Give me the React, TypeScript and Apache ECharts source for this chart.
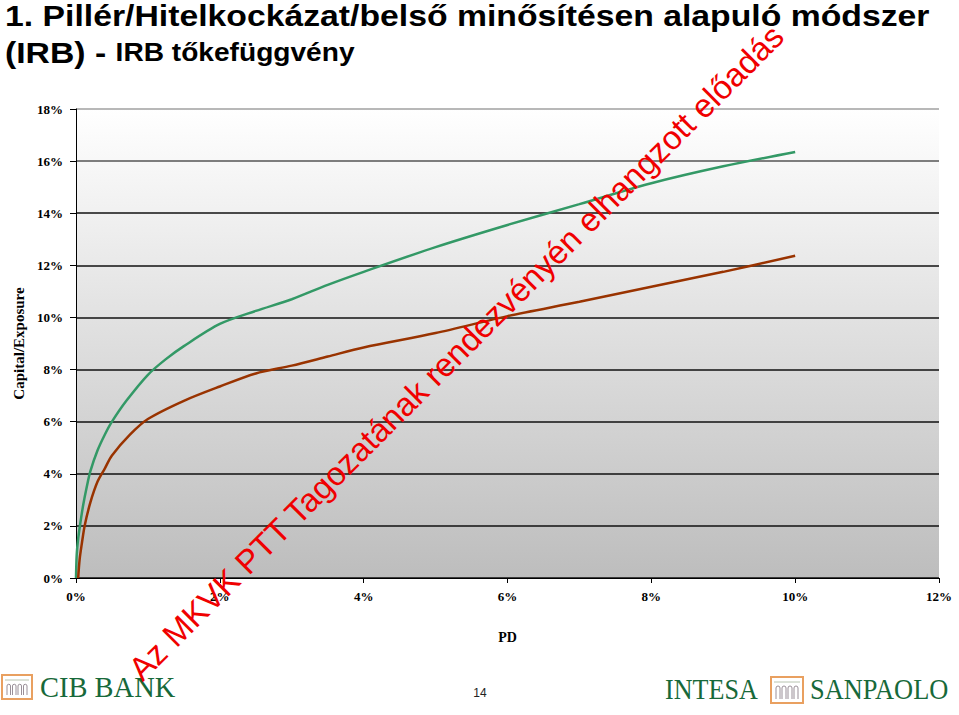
import React, { useEffect, useRef } from "react";
import * as echarts from "echarts";

const titleLine1 = "1. Pillér/Hitelkockázat/belső minősítésen alapuló módszer";
const titleLine2a = "(IRB) - ";
const titleLine2b = "IRB tőkefüggvény";
const watermark = "Az MKVK PTT Tagozatának rendezvényén elhangzott előadás";
const yAxisName = "Capital/Exposure";
const xAxisName = "PD";
const pageNumber = "14";

const yTicks = [0, 2, 4, 6, 8, 10, 12, 14, 16, 18];
const xTicks = [0, 2, 4, 6, 8, 10, 12];

// PD (%) , Capital/Exposure (%)
const greenPD = [0, 0.01, 0.03, 0.06, 0.1, 0.15, 0.2, 0.3, 0.4, 0.5, 0.7, 1.0, 1.25, 1.5, 2.0, 2.5, 3.0, 3.5, 4.0, 5, 6, 7, 8, 9, 10];
const greenCap = [0, 0.9, 1.5, 2.1, 2.8, 3.5, 4.1, 4.9, 5.5, 6.0, 6.8, 7.8, 8.4, 8.9, 9.75, 10.25, 10.7, 11.25, 11.75, 12.7, 13.55, 14.35, 15.15, 15.8, 16.35];

const brownPD = [0.03, 0.05, 0.08, 0.12, 0.2, 0.3, 0.4, 0.5, 0.75, 1.0, 1.5, 2.0, 2.5, 3.0, 3.5, 4, 5, 6, 7, 8, 9, 10];
const brownCap = [0, 0.7, 1.3, 2.0, 2.9, 3.7, 4.2, 4.7, 5.5, 6.1, 6.8, 7.35, 7.85, 8.15, 8.5, 8.85, 9.4, 10.05, 10.6, 11.18, 11.75, 12.37];

const SERIF = "'Liberation Serif', 'DejaVu Serif', serif";
const SANS = "'Liberation Sans', Arial, sans-serif";
const LOGO_GREEN = "#17693a";
const LOGO_ORANGE = "#e9a060";

function archLogo(x: number, y: number, w: number, h: number): any[] {
  const els: any[] = [];
  els.push({
    type: "rect",
    shape: { x, y, width: w, height: h },
    style: { fill: "#fff", stroke: LOGO_ORANGE, lineWidth: 2 },
  });
  els.push({
    type: "line",
    shape: { x1: x + 3, y1: y + 5, x2: x + w - 3, y2: y + 5 },
    style: { stroke: "#b8c4b0", lineWidth: 1 },
  });
  const n = 4;
  const aw = (w - 8) / n;
  for (let i = 0; i < n; i++) {
    const cx = x + 4 + aw * i + aw / 2;
    const r = aw / 2 - 1;
    const top = y + 11;
    els.push({
      type: "arc",
      shape: { cx, cy: top, r, startAngle: Math.PI, endAngle: 2 * Math.PI, clockwise: true },
      style: { stroke: "#9a8f98", lineWidth: 1, fill: "none" },
    });
    els.push({
      type: "polyline",
      shape: { points: [[cx - r, top], [cx - r, y + h - 4]] },
      style: { stroke: "#9a8f98", lineWidth: 1 },
    });
    els.push({
      type: "polyline",
      shape: { points: [[cx + r, top], [cx + r, y + h - 4]] },
      style: { stroke: "#9a8f98", lineWidth: 1 },
    });
  }
  return els;
}

export default function App() {
  const ref = useRef<HTMLDivElement>(null);
  useEffect(() => {
    if (!ref.current) return;
    const chart = echarts.init(ref.current, null, { renderer: "svg" });
    const green = greenPD.map((p, i) => [p, greenCap[i]]);
    const brown = brownPD.map((p, i) => [p, brownCap[i]]);
    const splitColors = yTicks.map((t) => (t === 18 ? "#a0a0a0" : t === 16 ? "#555" : "#111"));

    const option: any = {
      animation: false,
      backgroundColor: "#ffffff",
      grid: {
        left: 76,
        right: 20,
        top: 109,
        bottom: 137,
        show: true,
        borderWidth: 0,
        backgroundColor: {
          type: "linear",
          x: 0,
          y: 0,
          x2: 0,
          y2: 1,
          colorStops: [
            { offset: 0, color: "#ffffff" },
            { offset: 1, color: "#bdbdbd" },
          ],
        },
      },
      xAxis: {
        type: "value",
        min: 0,
        max: 12,
        interval: 2,
        name: xAxisName,
        nameLocation: "middle",
        nameGap: 52,
        nameTextStyle: { fontFamily: SERIF, fontWeight: "bold", fontSize: 14, color: "#000" },
        axisLine: { show: true, onZero: false, lineStyle: { color: "#000", width: 1 } },
        axisTick: { show: true, length: 5, lineStyle: { color: "#000" } },
        axisLabel: {
          margin: 12,
          fontFamily: SERIF,
          fontWeight: "bold",
          fontSize: 13,
          color: "#000",
          formatter: (v: number) => (xTicks.includes(v) ? v + "%" : ""),
        },
        splitLine: { show: false },
      },
      yAxis: {
        type: "value",
        min: 0,
        max: 18,
        interval: 2,
        name: yAxisName,
        nameLocation: "middle",
        nameGap: 49,
        nameRotate: 90,
        nameTextStyle: { fontFamily: SERIF, fontWeight: "bold", fontSize: 15, color: "#000" },
        axisLine: { show: true, lineStyle: { color: "#000", width: 1 } },
        axisTick: { show: true, length: 6, lineStyle: { color: "#000" } },
        axisLabel: {
          margin: 13,
          fontFamily: SERIF,
          fontWeight: "bold",
          fontSize: 13,
          color: "#000",
          formatter: (v: number) => (yTicks.includes(v) ? v + "%" : ""),
        },
        splitLine: { show: true, lineStyle: { color: splitColors, width: 1.5 } },
      },
      series: [
        {
          type: "line",
          name: "green",
          data: green,
          smooth: 0.3,
          showSymbol: false,
          symbol: "none",
          lineStyle: { color: "#339966", width: 2.5 },
          z: 3,
        },
        {
          type: "line",
          name: "brown",
          data: brown,
          smooth: 0.3,
          showSymbol: false,
          symbol: "none",
          lineStyle: { color: "#993300", width: 2.5 },
          z: 3,
        },
      ],
      graphic: [
        {
          type: "text",
          x: 5,
          y: 1,
          scaleX: 1.125,
          style: {
            text: titleLine1,
            font: `bold 30px ${SANS}`,
            fill: "#000",
            textVerticalAlign: "top",
          },
        },
        {
          type: "text",
          x: 5,
          y: 38,
          scaleX: 1.125,
          style: {
            text: `{a|${titleLine2a}}{b|${titleLine2b}}`,
            fill: "#000",
            textVerticalAlign: "top",
            rich: {
              a: { font: `bold 30px ${SANS}`, fill: "#000" },
              b: { font: `bold 25px ${SANS}`, fill: "#000" },
            },
          },
        },
        ...archLogo(2, 675, 30, 24),
        {
          type: "text",
          x: 40,
          y: 702,
          scaleX: 0.95,
          style: {
            text: "CIB BANK",
            font: `30px ${SERIF}`,
            fill: LOGO_GREEN,
            textVerticalAlign: "bottom",
          },
        },
        {
          type: "text",
          x: 665,
          y: 704,
          scaleX: 0.87,
          style: {
            text: "INTESA",
            font: `30px ${SERIF}`,
            fill: LOGO_GREEN,
            textVerticalAlign: "bottom",
          },
        },
        ...archLogo(771, 677, 32, 26),
        {
          type: "text",
          x: 810,
          y: 704,
          scaleX: 0.88,
          style: {
            text: "SANPAOLO",
            font: `30px ${SERIF}`,
            fill: LOGO_GREEN,
            textVerticalAlign: "bottom",
          },
        },
        {
          type: "text",
          x: 480,
          y: 693,
          style: {
            text: pageNumber,
            font: `12px ${SANS}`,
            fill: "#222",
            textAlign: "center",
            textVerticalAlign: "middle",
          },
        },
        {
          type: "text",
          x: 146,
          y: 686,
          rotation: Math.PI / 4,
          z: 100,
          style: {
            text: watermark,
            font: `33px ${SANS}`,
            fill: "#f00000",
            textAlign: "left",
            textVerticalAlign: "bottom",
          },
        },
      ],
    };
    chart.setOption(option);
    return () => chart.dispose();
  }, []);
  return (
    <div
      ref={ref}
      style={{ position: "fixed", left: 0, top: 0, width: 959, height: 715, background: "#fff" }}
    />
  );
}
